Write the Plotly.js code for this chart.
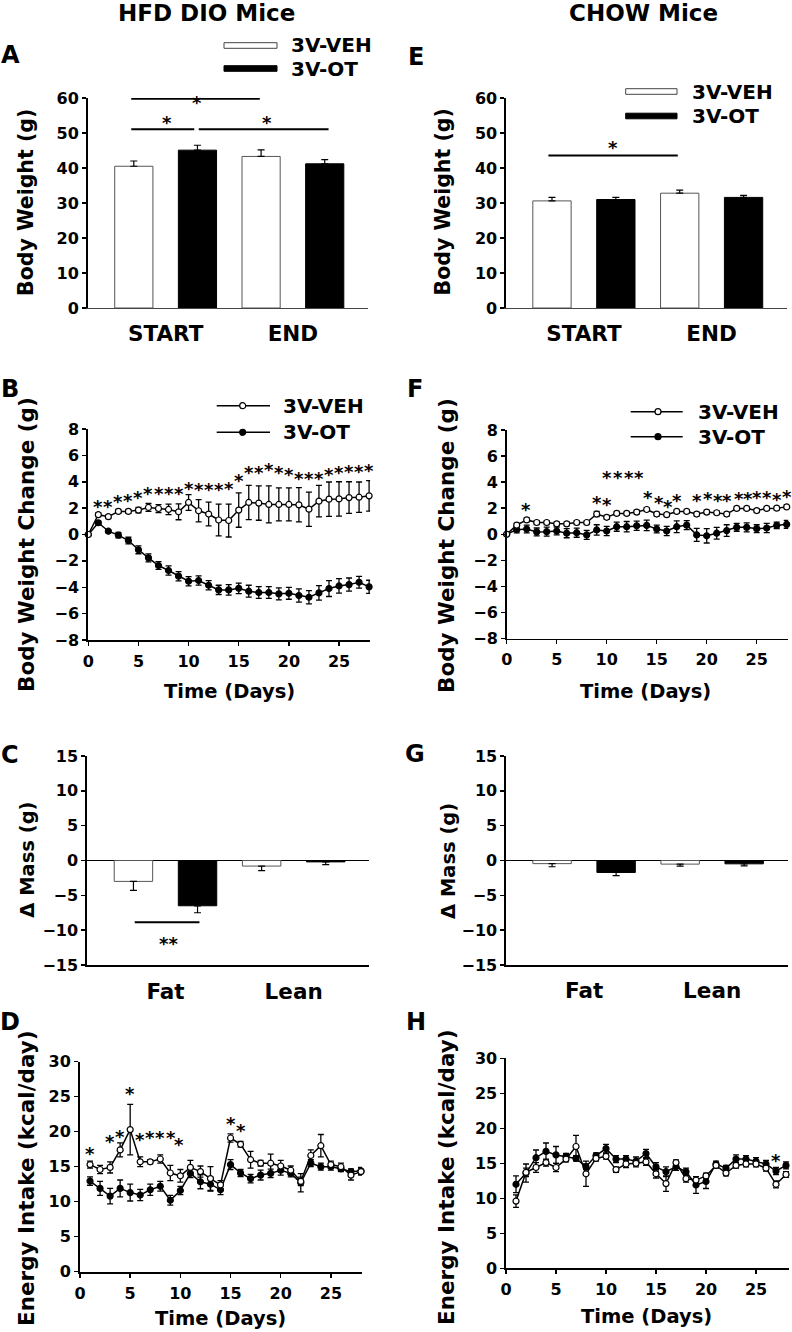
<!DOCTYPE html>
<html><head><meta charset="utf-8">
<script src="https://cdn.plot.ly/plotly-3.0.1.min.js"></script>
<style>html,body{margin:0;padding:0;background:#fff}</style>
</head><body>
<div id="chart" style="width:792px;height:1332px"></div>
<script>
// ---------------- DATA ----------------
const barGroups = ['START', 'END'];
const hfdBwVeh = [40.5, 43.3];
const hfdBwVehErr = [1.5, 1.9];
const hfdBwOt = [45.1, 41.2];
const hfdBwOtErr = [1.4, 1.2];
const chowBwVeh = [30.6, 32.8];
const chowBwVehErr = [1.0, 0.9];
const chowBwOt = [31.0, 31.6];
const chowBwOtErr = [0.6, 0.6];

const massGroups = ['Fat', 'Lean'];
const hfdMassVeh = [-3.0, -0.8];
const hfdMassVehErr = [1.3, 0.65];
const hfdMassOt = [-6.5, -0.2];
const hfdMassOtErr = [1.0, 0.4];
const chowMassVeh = [-0.45, -0.52];
const chowMassVehErr = [0.45, 0.3];
const chowMassOt = [-1.72, -0.48];
const chowMassOtErr = [0.45, 0.3];

const bwDays = [0,1,2,3,4,5,6,7,8,9,10,11,12,13,14,15,16,17,18,19,20,21,22,23,24,25,26,27,28];
const hfdBwcVeh = [0,1.5,1.35,1.75,1.75,1.85,2.05,1.97,1.9,1.72,2.43,1.8,1.55,1.1,1.06,1.85,2.43,2.38,2.28,2.28,2.28,2.25,1.92,2.53,2.68,2.7,2.8,2.83,2.93];
const hfdBwcVehErr = [0,0.15,0.15,0.15,0.15,0.2,0.3,0.3,0.4,0.6,0.6,0.85,0.9,1.2,1.25,1.3,1.3,1.3,1.4,1.25,1.25,1.3,1.3,1.2,1.3,1.3,1.2,1.15,1.15];
const hfdBwcOt = [0,0.89,0.25,-0.05,-0.46,-1.16,-1.77,-2.35,-2.73,-3.16,-3.54,-3.49,-3.85,-4.2,-4.2,-4.08,-4.3,-4.4,-4.4,-4.5,-4.46,-4.63,-4.76,-4.43,-4.1,-3.9,-3.8,-3.62,-3.97];
const hfdBwcOtErr = [0,0.15,0.1,0.2,0.25,0.3,0.3,0.3,0.35,0.35,0.35,0.35,0.35,0.35,0.4,0.4,0.45,0.45,0.45,0.45,0.45,0.5,0.5,0.55,0.6,0.55,0.5,0.45,0.5];
const chowBwcVeh = [0,0.7,1.1,0.9,0.9,0.8,0.8,0.9,0.9,1.55,1.3,1.6,1.6,1.7,1.9,1.55,1.5,1.75,1.75,1.55,1.7,1.65,1.55,1.98,1.98,1.82,1.98,2.0,2.1];
const chowBwcVehErr = [0,0.15,0.15,0.15,0.15,0.15,0.15,0.15,0.15,0.2,0.15,0.15,0.15,0.15,0.15,0.15,0.15,0.15,0.15,0.15,0.15,0.15,0.15,0.15,0.15,0.15,0.15,0.15,0.15];
const chowBwcOt = [0,0.35,0.4,0.18,0.2,0.25,0.08,0.12,-0.05,0.33,0.25,0.58,0.58,0.65,0.68,0.4,0.25,0.58,0.7,-0.05,-0.12,0.08,0.28,0.53,0.53,0.43,0.48,0.68,0.76];
const chowBwcOtErr = [0,0.25,0.3,0.3,0.35,0.3,0.35,0.35,0.35,0.4,0.35,0.35,0.4,0.35,0.4,0.3,0.35,0.45,0.35,0.5,0.55,0.45,0.45,0.3,0.35,0.3,0.35,0.25,0.3];

const eiDays = [1,2,3,4,5,6,7,8,9,10,11,12,13,14,15,16,17,18,19,20,21,22,23,24,25,26,27,28];
const hfdEiVeh = [15.3,14.6,14.9,17.4,20.3,15.7,15.7,16.1,14.1,13.7,14.9,14.3,13.3,12.4,19.1,18.2,16.0,15.5,15.5,15.1,14.5,12.9,16.6,18.0,15.3,15.0,13.8,14.3];
const hfdEiVehErr = [0.5,0.6,0.8,1.0,3.6,0.7,0.3,0.6,1.1,0.9,1.0,0.8,1.7,0.6,0.6,0.4,1.2,0.4,1.3,0.8,0.6,0.6,0.8,1.6,0.5,0.5,0.7,0.5];
const hfdEiOt = [12.95,11.9,10.8,11.9,11.3,10.95,11.7,12.2,10.2,11.6,14.05,12.85,12.5,11.7,15.3,14.1,13.3,13.8,14.05,14.5,14.05,12.7,15.5,15.0,15.0,14.7,14.3,14.4];
const hfdEiOtErr = [0.6,1.0,1.1,1.2,1.2,0.8,0.8,0.7,0.7,0.6,0.6,1.0,1.0,0.7,0.7,0.5,0.6,0.7,0.6,0.7,0.5,1.3,0.5,0.5,0.5,0.4,0.4,0.5];
const chowEiVeh = [9.6,13.7,14.4,15.1,14.4,15.6,17.4,13.5,15.7,16.0,14.1,14.9,15.0,15.2,13.5,12.1,15.1,12.8,12.6,13.2,14.7,13.6,14.7,14.9,14.9,14.3,12.0,13.4];
const chowEiVehErr = [0.9,0.6,0.7,0.5,0.6,0.4,1.6,1.8,0.4,0.4,0.4,0.5,0.5,0.5,0.6,1.1,0.4,0.5,0.5,0.4,0.4,0.4,0.4,0.4,0.4,0.4,0.5,0.4];
const chowEiOt = [12.0,13.6,15.8,16.7,16.2,16.0,15.7,14.5,16.1,17.1,15.6,15.6,15.3,16.4,14.5,13.8,14.5,13.8,11.9,12.4,14.9,14.3,15.6,15.6,15.3,14.9,13.9,14.7];
const chowEiOtErr = [1.2,1.3,1.1,1.2,1.2,0.4,0.4,0.4,0.4,0.6,0.5,0.5,0.6,0.6,0.6,0.7,0.5,0.5,1.2,1.0,0.4,0.4,0.6,0.5,0.5,0.5,0.5,0.5];

// significance stars (day, value)
const hfdBwcStarDays = [1,2,3,4,5,6,7,8,9,10,11,12,13,14,15,16,17,18,19,20,21,22,23,24,25,26,27,28];
const hfdBwcStarY = [2.43,2.43,2.78,2.91,3.11,3.42,3.42,3.42,3.42,3.8,3.7,3.7,3.7,3.8,4.38,5.01,5.01,5.2,5.01,4.84,4.58,4.58,4.58,4.89,5.01,5.09,5.09,5.19];
const chowBwcStarDays = [1.9,9.0,10.0,10.0,11.1,12.2,13.2,14.1,15.2,16.1,17.0,19.0,20.1,21.1,22.0,23.2,24.1,25.0,26.0,27.0,28.0];
const chowBwcStarY = [2.18,2.73,2.6,4.63,4.63,4.63,4.63,3.11,2.71,2.46,2.86,2.9,3.05,2.9,2.9,3.05,3.05,3.1,3.15,2.98,3.2];
const hfdEiStarDays = [1,3,4,5,6,7,8,9.1,9.9,15,16];
const hfdEiStarY = [17.5,19.2,19.9,26.0,19.4,19.8,19.8,19.8,18.8,21.7,20.8];
const chowEiStarDays = [27];
const chowEiStarY = [15.95];

// bracket lines for bar panels: [x0, x1, y]
const hfdBwBrackets = [[-0.27, 0.74, 59.8], [-0.27, 0.225, 51.1], [0.26, 1.28, 51.1]];
const hfdBwBracketStars = [[0.25, 59.8, '*'], [0.01, 54.0, '*'], [0.795, 54.0, '*']];
const chowBwBrackets = [[-0.278, 0.735, 43.6]];
const chowBwBracketStars = [[0.225, 47.1, '*']];
const hfdMassBrackets = [[-0.24, 0.265, -8.85]];
const hfdMassBracketStars = [[0.02, -11.4, '**']];

const seriesNames = ['3V-VEH', '3V-OT'];

// ---------------- LAYOUT HELPERS ----------------
const W = 792, H = 1332;
const px = p => p / W;
const py = p => 1 - p / H;
const FAM = 'DejaVu Sans';
const fnt = s => ({family: FAM, size: s, color: '#000', weight: 'bold'});

const data = [];
const shapes = [];
const annotations = [];

function addBars(groups, veh, vehErr, ot, otErr, n, negative) {
  const zeros = groups.map(() => 0);
  [[veh, vehErr, '#ffffff', '#555'], [ot, otErr, '#000000', '#000']].forEach(([y, e, fill, edge], k) => {
    data.push({
      type: 'bar', x: groups, y: y, name: seriesNames[k],
      xaxis: 'x' + n, yaxis: 'y' + n,
      marker: {color: fill, line: {color: edge, width: 1}},
      error_y: {type: 'data', symmetric: false,
        array: negative ? zeros : e, arrayminus: negative ? e : zeros,
        color: '#000', thickness: 1.2, width: 3.5},
      showlegend: false, hoverinfo: 'skip'
    });
  });
}

function addLines(days, veh, vehErr, ot, otErr, n) {
  [[ot, otErr, '#000'], [veh, vehErr, '#fff']].forEach(([y, e, fill], k) => {
    data.push({
      type: 'scatter', mode: 'lines+markers', x: days, y: y,
      name: seriesNames[1 - k],
      xaxis: 'x' + n, yaxis: 'y' + n,
      line: {color: '#000', width: 1.5},
      marker: {symbol: 'circle', size: 6, color: fill, line: {color: '#000', width: 1.2}},
      error_y: {type: 'data', array: e, color: '#000', thickness: 1.3, width: 3},
      cliponaxis: false, showlegend: false, hoverinfo: 'skip'
    });
  });
}

function addStars(xs, ys, n) {
  xs.forEach((x, i) => {
    annotations.push({xref: 'x' + n, yref: 'y' + n, x: x, y: ys[i], text: '*',
      showarrow: false, font: fnt(18), xanchor: 'center', yanchor: 'middle', yshift: -4});
  });
}

function addBrackets(br, st, n, range) {
  br.forEach(b => shapes.push({type: 'line', xref: 'x' + n, yref: 'y' + n,
    x0: b[0], x1: b[1], y0: b[2], y1: b[2], line: {color: '#000', width: 2}}));
  st.forEach(s => {
    annotations.push({xref: 'x' + n, yref: 'y' + n, x: s[0], y: s[1], text: s[2],
      showarrow: false, font: fnt(18), xanchor: 'center', yanchor: 'middle',
      yshift: s[1] >= range[1] ? 14 : -4});
  });
}

// panels: n, x-domain px, y-domain px(top,bottom), x range, y range, dtick, kind
const panels = [
  {n: 1, xd: [88, 368], yd: [98, 308], xr: [-0.61, 1.59], yr: [0, 60], dt: 10, kind: 'bar', lw: 2},
  {n: 2, xd: [88.3, 370.1], yd: [429, 640], xr: [0, 28.1], yr: [-8, 8], dt: 2, kind: 'line', lw: 2},
  {n: 3, xd: [87.3, 369.3], yd: [756, 965], xr: [-0.61, 1.59], yr: [-15, 15], dt: 5, kind: 'mass', lw: 2},
  {n: 4, xd: [80, 362], yd: [1061.7, 1271.7], xr: [0, 28.1], yr: [0, 30], dt: 5, kind: 'line', lw: 2},
  {n: 5, xd: [506, 787], yd: [98, 308], xr: [-0.61, 1.59], yr: [0, 60], dt: 10, kind: 'bar', lw: 1.6},
  {n: 6, xd: [506.7, 788.2], yd: [430, 638.5], xr: [0, 28.15], yr: [-8, 8], dt: 2, kind: 'line', lw: 1.6},
  {n: 7, xd: [506, 787.7], yd: [756, 965], xr: [-0.61, 1.59], yr: [-15, 15], dt: 5, kind: 'mass', lw: 1.6},
  {n: 8, xd: [506, 789], yd: [1058.3, 1268.3], xr: [0, 28.3], yr: [0, 30], dt: 5, kind: 'line', lw: 1.6}
];

const layout = {
  width: W, height: H, margin: {l: 0, r: 0, t: 0, b: 0},
  paper_bgcolor: '#fff', plot_bgcolor: 'rgba(0,0,0,0)',
  font: fnt(16), showlegend: false,
  barmode: 'group', bargap: 0, bargroupgap: 0.4,
  shapes: shapes, annotations: annotations
};

panels.forEach(p => {
  const xk = 'xaxis' + (p.n === 1 ? '' : p.n);
  const yk = 'yaxis' + (p.n === 1 ? '' : p.n);
  const xa = {
    domain: [px(p.xd[0]), px(p.xd[1])], range: p.xr, anchor: 'y' + p.n,
    showline: true, linecolor: '#000', linewidth: p.lw, showgrid: false, zeroline: false,
    fixedrange: true
  };
  if (p.kind === 'line') {
    Object.assign(xa, {ticks: 'outside', ticklen: 4, tickwidth: 1.5, tickcolor: '#000',
      tick0: 0, dtick: 5, tickfont: fnt(16), ticklabelstandoff: 2});
  } else {
    Object.assign(xa, {type: 'category', ticks: '', tickfont: fnt(21.5), ticklabelstandoff: 6});
    if (p.kind === 'bar') { xa.linewidth = 1; xa.linecolor = '#444'; }
  }
  const ya = {
    domain: [py(p.yd[1]), py(p.yd[0])], range: p.yr, anchor: 'x' + p.n,
    showline: true, linecolor: '#000', linewidth: p.lw, showgrid: false,
    zeroline: p.kind === 'mass', zerolinecolor: '#000', zerolinewidth: 1,
    ticks: 'outside', ticklen: 4, tickwidth: 1.5, tickcolor: '#000',
    tick0: 0, dtick: p.dt, tickfont: fnt(16), fixedrange: true
  };
  layout[xk] = xa;
  layout[yk] = ya;
});

// ---------------- TRACES ----------------
addBars(barGroups, hfdBwVeh, hfdBwVehErr, hfdBwOt, hfdBwOtErr, 1, false);
addBars(barGroups, chowBwVeh, chowBwVehErr, chowBwOt, chowBwOtErr, 5, false);
addBars(massGroups, hfdMassVeh, hfdMassVehErr, hfdMassOt, hfdMassOtErr, 3, true);
addBars(massGroups, chowMassVeh, chowMassVehErr, chowMassOt, chowMassOtErr, 7, true);
addLines(bwDays, hfdBwcVeh, hfdBwcVehErr, hfdBwcOt, hfdBwcOtErr, 2);
addLines(bwDays, chowBwcVeh, chowBwcVehErr, chowBwcOt, chowBwcOtErr, 6);
addLines(eiDays, hfdEiVeh, hfdEiVehErr, hfdEiOt, hfdEiOtErr, 4);
addLines(eiDays, chowEiVeh, chowEiVehErr, chowEiOt, chowEiOtErr, 8);

addStars(hfdBwcStarDays, hfdBwcStarY, 2);
addStars(chowBwcStarDays, chowBwcStarY, 6);
addStars(hfdEiStarDays, hfdEiStarY, 4);
addStars(chowEiStarDays, chowEiStarY, 8);
addBrackets(hfdBwBrackets, hfdBwBracketStars, 1, [0, 60]);
addBrackets(chowBwBrackets, chowBwBracketStars, 5, [0, 60]);
addBrackets(hfdMassBrackets, hfdMassBracketStars, 3, [-15, 15]);

// ---------------- TEXT ----------------
function txt(x, y, t, size, opts) {
  annotations.push(Object.assign({xref: 'paper', yref: 'paper', x: px(x), y: py(y), text: t,
    showarrow: false, font: fnt(size), xanchor: 'center', yanchor: 'middle'}, opts || {}));
}
txt(206, 13, 'HFD DIO Mice', 23);
txt(643.5, 13, 'CHOW Mice', 23);
[['A', 10, 55], ['B', 10, 389], ['C', 10, 755], ['D', 10, 1022],
 ['E', 416, 57], ['F', 414.5, 389], ['G', 415, 754], ['H', 416, 1022]].forEach(l => txt(l[1], l[2], l[0], 24));

const vt = {textangle: -90};
txt(26.5, 202.5, 'Body Weight (g)', 20.5, vt);
txt(443, 202.5, 'Body Weight (g)', 20.5, vt);
txt(26, 545, 'Body Weight Change (g)', 21.5, vt);
txt(446, 546, 'Body Weight Change (g)', 21.5, vt);
txt(26.7, 860, 'Δ Mass (g)', 19.5, vt);
txt(449, 861, 'Δ Mass (g)', 19.5, vt);
txt(26, 1178, 'Energy Intake (kcal/day)', 21.5, vt);
txt(446, 1177, 'Energy Intake (kcal/day)', 21.5, vt);

txt(229, 691.5, 'Time (Days)', 19.5);
txt(645, 692, 'Time (Days)', 19.5);
txt(220, 1318, 'Time (Days)', 19.5);
txt(646, 1316, 'Time (Days)', 19.5);

// bar legends
function barLegend(x0, x1, yVeh, yOt, tx) {
  shapes.push({type: 'rect', xref: 'paper', yref: 'paper', x0: px(x0), x1: px(x1),
    y0: py(yVeh + 2.8), y1: py(yVeh - 2.8), fillcolor: '#fff', line: {color: '#444', width: 1}});
  shapes.push({type: 'rect', xref: 'paper', yref: 'paper', x0: px(x0), x1: px(x1),
    y0: py(yOt + 2.8), y1: py(yOt - 2.8), fillcolor: '#000', line: {color: '#000', width: 1}});
  txt(tx, yVeh, seriesNames[0], 20, {xanchor: 'left'});
  txt(tx, yOt, seriesNames[1], 20, {xanchor: 'left'});
}
barLegend(224, 277, 45.5, 68.5, 289);
barLegend(625.7, 677, 91.5, 116, 689.5);

// line legends
function lineLegend(x0, x1, cx, yVeh, yOt, tx) {
  [[yVeh, '#fff'], [yOt, '#000']].forEach(([y, fill]) => {
    shapes.push({type: 'line', xref: 'paper', yref: 'paper', x0: px(x0), x1: px(x1),
      y0: py(y), y1: py(y), line: {color: '#000', width: 1.5}});
    shapes.push({type: 'circle', xref: 'paper', yref: 'paper', x0: px(cx - 3), x1: px(cx + 3),
      y0: py(y + 3), y1: py(y - 3), fillcolor: fill, line: {color: '#000', width: 1.2}});
  });
  txt(tx, yVeh, seriesNames[0], 20, {xanchor: 'left'});
  txt(tx, yOt, seriesNames[1], 20, {xanchor: 'left'});
}
lineLegend(216.7, 270, 242.7, 405.7, 432.3, 281);
lineLegend(630.7, 682.7, 658, 411.7, 436.7, 695.5);

Plotly.newPlot('chart', data, layout, {staticPlot: true, displayModeBar: false});
</script>
</body></html>
